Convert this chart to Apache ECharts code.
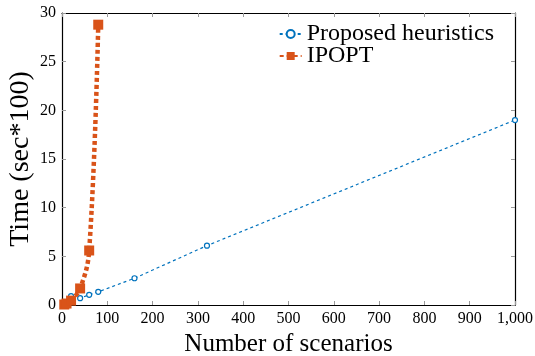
<!DOCTYPE html>
<html>
<head>
<meta charset="utf-8">
<script src="https://cdn.jsdelivr.net/npm/echarts@6/dist/echarts.min.js"></script>
<style>
  html, body { margin: 0; padding: 0; background: #fff; }
  #chart { width: 535px; height: 356px; }
</style>
</head>
<body>
<div id="chart"></div>
<script>
// data
const heurX = [5, 10, 20, 40, 60, 80, 160, 320, 1000];
const heurY = [0.1, 0.3, 0.92, 0.7, 1.05, 1.35, 2.75, 6.1, 19.0];
const ipoptX = [5, 10, 20, 40, 60, 80];
const ipoptY = [0.05, 0.15, 0.45, 1.7, 5.6, 28.8];
const xTicks = [0, 100, 200, 300, 400, 500, 600, 700, 800, 900, 1000];
const yTicks = [0, 5, 10, 15, 20, 25, 30];

const FONT = "Liberation Serif";
const BLUE = "#0072BD";
const ORANGE = "#D95319";

const chart = echarts.init(document.getElementById("chart"));

const axisLine = { show: true, onZero: false, lineStyle: { color: "#000", width: 1.2 } };
const tick = { show: true, inside: true, length: 4, lineStyle: { color: "#999" } };

chart.setOption({
    backgroundColor: "#fff",
    animation: false,
    grid: { left: 62, right: 20, top: 13, bottom: 51, outerBoundsMode: "none", containLabel: false },

    legend: {
        right: 36,
        top: 17,
        orient: "vertical",
        align: "left",
        itemGap: -2,
        itemWidth: 22,
        itemHeight: 10,
        textStyle: { fontFamily: FONT, fontSize: 24, lineHeight: 20, color: "#000" },
        data: ["Proposed heuristics", "IPOPT"]
    },

    xAxis: [{
        type: "value",
        min: xTicks[0],
        max: xTicks[xTicks.length - 1],
        interval: 100,
        axisLine: axisLine,
        axisTick: tick,
        splitLine: { show: false },
        axisLabel: {
            fontFamily: FONT, fontSize: 16, color: "#000", margin: 6,
            formatter: v => v >= 1000 ? "1,000" : String(v)
        },
        name: "Number of scenarios",
        nameLocation: "middle",
        nameGap: 27,
        nameTextStyle: { fontFamily: FONT, fontSize: 25, color: "#000" }
    }, {
        type: "value",
        position: "top",
        min: xTicks[0],
        max: xTicks[xTicks.length - 1],
        interval: 100,
        axisLine: axisLine,
        axisTick: tick,
        axisLabel: { show: false },
        splitLine: { show: false }
    }],

    yAxis: [{
        type: "value",
        min: yTicks[0],
        max: yTicks[yTicks.length - 1],
        interval: 5,
        axisLine: axisLine,
        axisTick: tick,
        splitLine: { show: false },
        axisLabel: { fontFamily: FONT, fontSize: 16, color: "#000", margin: 6 },
        name: "Time (sec*100)",
        nameLocation: "middle",
        nameGap: 27,
        nameMoveOverlap: false,
        nameTextStyle: { fontFamily: FONT, fontSize: 28, color: "#000" }
    }, {
        type: "value",
        position: "right",
        min: yTicks[0],
        max: yTicks[yTicks.length - 1],
        interval: 5,
        axisLine: axisLine,
        axisTick: tick,
        axisLabel: { show: false },
        splitLine: { show: false }
    }],

    series: [{
        name: "Proposed heuristics",
        type: "line",
        data: heurX.map((x, i) => [x, heurY[i]]),
        symbol: "circle",
        symbolSize: 5,
        showAllSymbol: true,
        itemStyle: { color: "#fff", borderColor: BLUE, borderWidth: 1.2 },
        lineStyle: { color: BLUE, width: 1.2, type: [3, 3] },
        z: 2
    }, {
        name: "IPOPT",
        type: "line",
        data: ipoptX.map((x, i) => [x, ipoptY[i]]),
        smooth: 0.4,
        symbol: "rect",
        symbolSize: 10,
        itemStyle: { color: ORANGE },
        lineStyle: { color: ORANGE, width: 4.5, type: [4, 3] },
        z: 3
    }]
});
</script>
</body>
</html>
